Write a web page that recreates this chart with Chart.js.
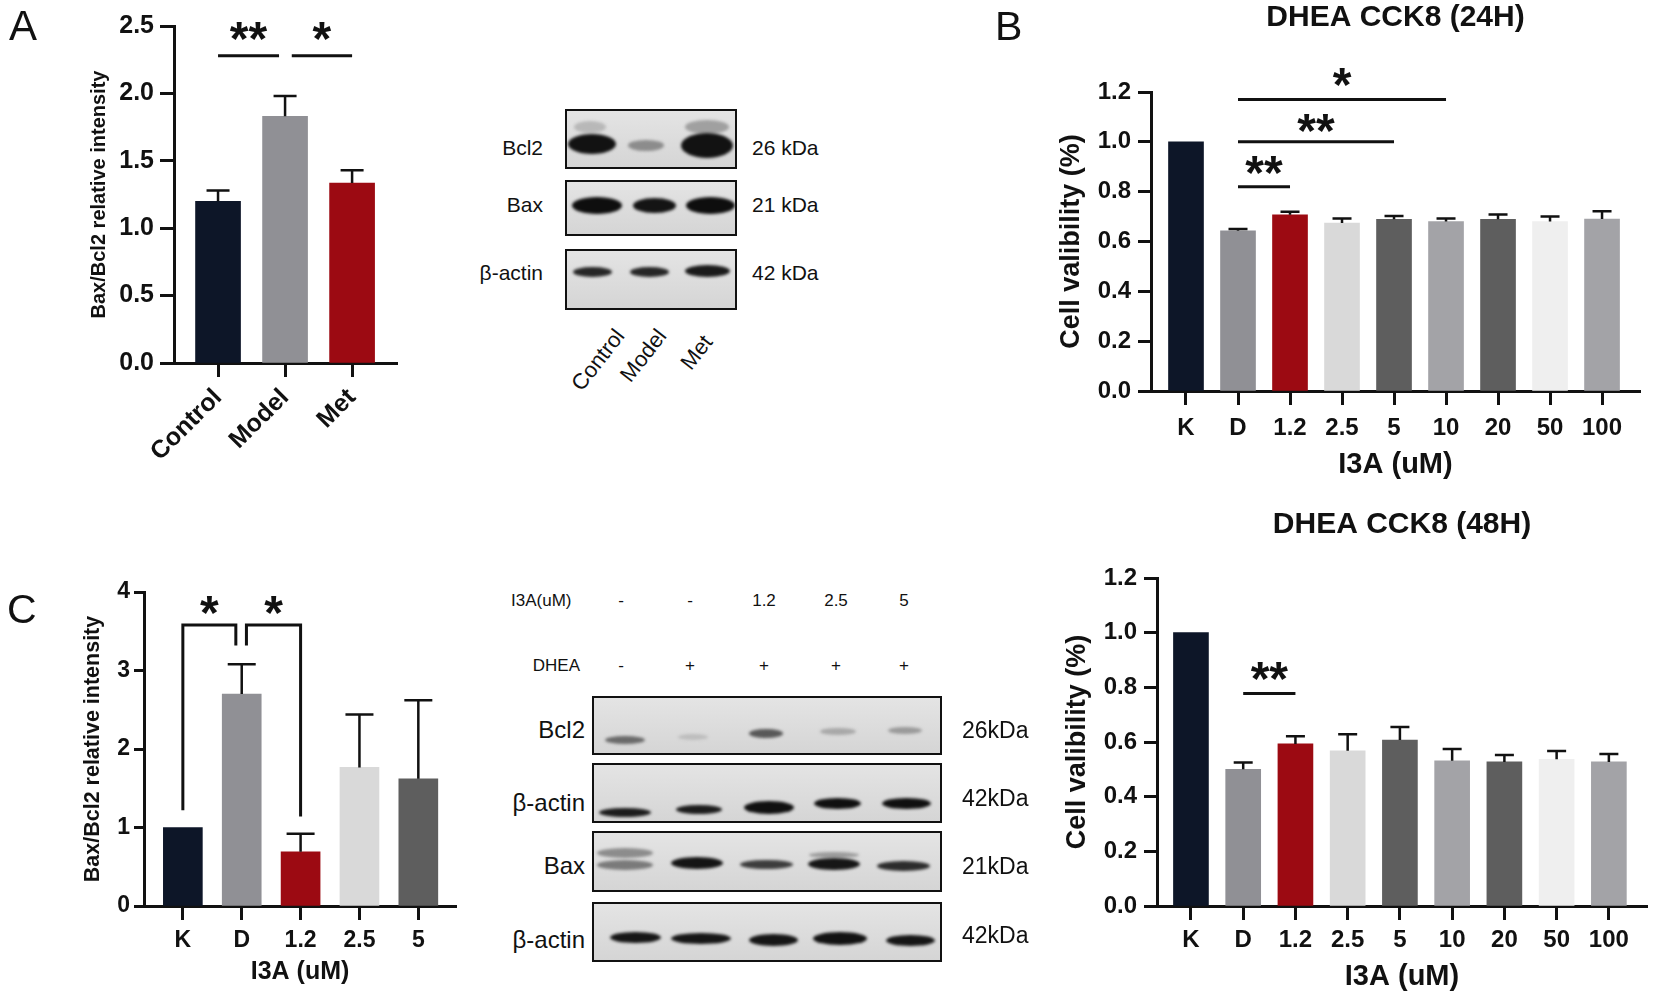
<!DOCTYPE html>
<html>
<head>
<meta charset="utf-8">
<script src="https://cdn.jsdelivr.net/npm/chart.js@4.4.1/dist/chart.umd.min.js"></script>
<style>
  body { margin: 0; background: #fff; width: 1654px; height: 998px; overflow: hidden; position: relative;
         font-family: "Liberation Sans", Arial, Helvetica, sans-serif; color: #111; }
  canvas { position: absolute; }
  .t { position: absolute; white-space: nowrap; line-height: 1; }
  .blot { position: absolute; box-sizing: border-box; border: 2px solid #111;
          background: linear-gradient(#e4e4e4, #d5d5d5); }
  .band { position: absolute; border-radius: 50%; filter: blur(1.8px); }
</style>
</head>
<body>
<canvas id="chartA" width="420" height="470" style="left:0px;top:0px"></canvas>
<canvas id="chartB" width="654" height="490" style="left:1000px;top:0px"></canvas>
<canvas id="chartC" width="480" height="458" style="left:0px;top:540px"></canvas>
<canvas id="chartD" width="654" height="503" style="left:1000px;top:495px"></canvas>

<script>
// ---- data ----
const groupsA = ['Control', 'Model', 'Met'];
const ratioA = [1.20, 1.83, 1.335];
const ratioAErr = [0.08, 0.15, 0.095];

const dosesCCK = ['K', 'D', '1.2', '2.5', '5', '10', '20', '50', '100'];
const via24 = [1.0, 0.643, 0.707, 0.674, 0.689, 0.680, 0.689, 0.680, 0.690];
const via24Err = [0, 0.007, 0.012, 0.018, 0.013, 0.012, 0.019, 0.020, 0.031];
const via48 = [1.0, 0.500, 0.593, 0.568, 0.607, 0.531, 0.527, 0.537, 0.527];
const via48Err = [0, 0.025, 0.028, 0.060, 0.048, 0.043, 0.025, 0.030, 0.029];

const dosesWB = ['K', 'D', '1.2', '2.5', '5'];
const ratioC = [1.0, 2.70, 0.69, 1.765, 1.62];
const ratioCErr = [0, 0.38, 0.23, 0.675, 1.0];

// significance marks (x in bar index units, y in axis units)
const sigA = [
  { x0: 0, x1: 0.91, y: 2.28, text: '**', ty: 2.46 },
  { x0: 1.1, x1: 2, y: 2.28, text: '*', ty: 2.46 }
];
const sigB = [
  { x0: 1, x1: 5, y: 1.17, text: '*', ty: 1.26 },
  { x0: 1, x1: 4, y: 1.0, text: '**', ty: 1.076 },
  { x0: 1, x1: 2, y: 0.82, text: '**', ty: 0.908 }
];
const sigD = [
  { x0: 1, x1: 2, y: 0.777, text: '**', ty: 0.86 }
];
const bracketsC = [
  { x0: 0, x1: 0.9, yl: 1.22, yt: 3.58, yr: 3.32, text: '*', ty: 3.83 },
  { x0: 1.08, x1: 2, yl: 3.32, yt: 3.58, yr: 1.14, text: '*', ty: 3.83 }
];

const colorsCCK = ['#0d1628', '#909095', '#9c0a12', '#d9d9d9', '#5e5e5e', '#a3a3a7', '#5e5e5e', '#efefef', '#a3a3a7'];
const colorsA = ['#0d1628', '#909095', '#9c0a12'];
const colorsC = ['#0d1628', '#909095', '#9c0a12', '#d9d9d9', '#5e5e5e'];

const FONT = '"Liberation Sans", Arial, Helvetica, sans-serif';
const INK = '#111';

// error bars drawn upward from each bar
const errorBars = {
  id: 'errorBars',
  afterDatasetsDraw(chart, args, opts) {
    const { ctx, scales: { x, y } } = chart;
    const pts = chart.data.datasets[0].data;
    ctx.save();
    ctx.strokeStyle = INK;
    ctx.lineWidth = 2.5;
    pts.forEach((p, i) => {
      const e = opts.errors[i];
      if (!e) return;
      const px = x.getPixelForValue(p.x);
      const y0 = y.getPixelForValue(p.y);
      const y1 = y.getPixelForValue(p.y + e);
      ctx.beginPath();
      ctx.moveTo(px, y0); ctx.lineTo(px, y1);
      ctx.moveTo(px - opts.cap / 2, y1); ctx.lineTo(px + opts.cap / 2, y1);
      ctx.stroke();
    });
    ctx.restore();
  }
};

function star(ctx, text, px, py, size) {
  ctx.font = 'bold ' + size + 'px ' + FONT;
  ctx.textAlign = 'center';
  ctx.textBaseline = 'alphabetic';
  ctx.fillText(text, px, py + 0.5 * size);
}

// significance lines and brackets
const sigMarks = {
  id: 'sigMarks',
  afterDatasetsDraw(chart, args, opts) {
    const { ctx, scales: { x, y } } = chart;
    ctx.save();
    ctx.strokeStyle = INK;
    ctx.fillStyle = INK;
    ctx.lineWidth = 3;
    (opts.lines || []).forEach(s => {
      const a = x.getPixelForValue(s.x0), b = x.getPixelForValue(s.x1), py = y.getPixelForValue(s.y);
      ctx.beginPath(); ctx.moveTo(a, py); ctx.lineTo(b, py); ctx.stroke();
      star(ctx, s.text, (a + b) / 2, y.getPixelForValue(s.ty), opts.size);
    });
    (opts.brackets || []).forEach(s => {
      const a = x.getPixelForValue(s.x0), b = x.getPixelForValue(s.x1);
      ctx.beginPath();
      ctx.moveTo(a, y.getPixelForValue(s.yl));
      ctx.lineTo(a, y.getPixelForValue(s.yt));
      ctx.lineTo(b, y.getPixelForValue(s.yt));
      ctx.lineTo(b, y.getPixelForValue(s.yr));
      ctx.stroke();
      star(ctx, s.text, (a + b) / 2, y.getPixelForValue(s.ty), opts.size);
    });
    ctx.restore();
  }
};

function makeChart(id, o) {
  const font = (size, weight) => ({ family: FONT, size: size, weight: weight || 'bold' });
  return new Chart(document.getElementById(id), {
    type: 'bar',
    data: {
      datasets: [{
        data: o.values.map((v, i) => ({ x: i, y: v })),
        backgroundColor: o.colors,
        barThickness: o.barW,
        borderWidth: 0
      }]
    },
    options: {
      responsive: false,
      animation: false,
      devicePixelRatio: 1,
      layout: { padding: o.pad },
      plugins: {
        legend: { display: false },
        tooltip: { enabled: false },
        title: o.title ? {
          display: true, text: o.title, fullSize: false, color: INK,
          font: font(30), padding: { top: 0, bottom: o.titleGap }
        } : { display: false },
        errorBars: { errors: o.errors, cap: o.cap },
        sigMarks: { lines: o.lines, brackets: o.brackets, size: 48 }
      },
      scales: {
        x: {
          type: 'linear',
          offset: false,
          min: o.xMin,
          max: o.xMax,
          afterBuildTicks: s => { s.ticks = o.labels.map((_, i) => ({ value: i })); },
          afterFit: s => { s.height = o.xH; },
          ticks: {
            autoSkip: false,
            callback: v => o.labels[v],
            color: INK,
            font: font(o.xFont),
            padding: o.xTickPad,
            minRotation: o.rot || 0,
            maxRotation: o.rot || 0
          },
          grid: { offset: false, drawOnChartArea: false, tickLength: 14, tickWidth: 3, tickColor: INK, color: INK },
          border: { width: 3, color: INK },
          title: o.xTitle ? {
            display: true, text: o.xTitle, color: INK, font: font(o.xTitleSize),
            padding: { top: 0, bottom: o.xTitlePad }
          } : { display: false }
        },
        y: {
          min: 0,
          max: o.yMax,
          afterFit: s => { s.width = o.yW; },
          ticks: {
            stepSize: o.yStep,
            callback: v => v.toFixed(o.dec),
            color: INK,
            font: font(o.yFont),
            padding: o.yTickPad
          },
          grid: { drawOnChartArea: false, tickLength: o.yTickLen, tickWidth: 3, tickColor: INK, color: INK },
          border: { width: 3, color: INK },
          title: {
            display: true, text: o.yTitle, color: INK, font: font(o.yTitleSize),
            padding: { top: o.yTitlePad, bottom: 0 }
          }
        }
      }
    },
    plugins: [errorBars, sigMarks]
  });
}

makeChart('chartA', {
  labels: groupsA, values: ratioA, errors: ratioAErr, colors: colorsA,
  barW: 45, cap: 23, lines: sigA,
  pad: { top: 26, left: 0, right: 23, bottom: 0 },
  xMin: -0.657, xMax: 2.67, xH: 107, xFont: 25, xTickPad: 6, rot: 45,
  yMax: 2.5, yStep: 0.5, dec: 1, yW: 174, yFont: 25, yTickPad: 6, yTickLen: 14,
  yTitle: 'Bax/Bcl2 relative intensity', yTitleSize: 20, yTitlePad: 87
});

makeChart('chartB', {
  labels: dosesCCK, values: via24, errors: via24Err, colors: colorsCCK,
  barW: 35, cap: 19, lines: sigB,
  title: 'DHEA CCK8 (24H)', titleGap: 56,
  pad: { top: 0, left: 0, right: 14, bottom: 0 },
  xMin: -0.673, xMax: 8.73, xH: 99, xFont: 24, xTickPad: 8.5,
  xTitle: 'I3A (uM)', xTitleSize: 29, xTitlePad: 7.6,
  yMax: 1.2, yStep: 0.2, dec: 1, yW: 151, yFont: 24, yTickPad: 7, yTickLen: 13,
  yTitle: 'Cell valibility (%)', yTitleSize: 27, yTitlePad: 55.8
});

makeChart('chartC', {
  labels: dosesWB, values: ratioC, errors: ratioCErr, colors: colorsC,
  barW: 39, cap: 28, brackets: bracketsC,
  pad: { top: 52, left: 0, right: 24, bottom: 0 },
  xMin: -0.66, xMax: 4.64, xH: 92, xFont: 23, xTickPad: 7.2,
  xTitle: 'I3A (uM)', xTitleSize: 25, xTitlePad: 11,
  yMax: 4, yStep: 1, dec: 0, yW: 144, yFont: 23, yTickPad: 4, yTickLen: 10,
  yTitle: 'Bax/Bcl2 relative intensity', yTitleSize: 21.5, yTitlePad: 80
});

makeChart('chartD', {
  labels: dosesCCK, values: via48, errors: via48Err, colors: colorsCCK,
  barW: 35, cap: 19, lines: sigD,
  title: 'DHEA CCK8 (48H)', titleGap: 35,
  pad: { top: 12, left: 0, right: 7, bottom: 0 },
  xMin: -0.65, xMax: 8.73, xH: 92, xFont: 24, xTickPad: 5.6,
  xTitle: 'I3A (uM)', xTitleSize: 29, xTitlePad: 3.6,
  yMax: 1.2, yStep: 0.2, dec: 1, yW: 157, yFont: 24, yTickPad: 7, yTickLen: 13,
  yTitle: 'Cell valibility (%)', yTitleSize: 27, yTitlePad: 61.8
});

// ---- text and western blot panels (images, rebuilt with plain HTML) ----
function txt(s, x, y, size, align, extra) {
  const d = document.createElement('div');
  d.className = 't';
  d.textContent = s;
  d.style.left = x + 'px';
  d.style.top = y + 'px';
  d.style.fontSize = size + 'px';
  const tx = align === 'right' ? '-100%' : align === 'center' ? '-50%' : '0';
  d.style.transform = 'translate(' + tx + ',-50%)';
  if (extra) Object.assign(d.style, extra);
  document.body.appendChild(d);
  return d;
}
function box(x0, y0, x1, y1) {
  const d = document.createElement('div');
  d.className = 'blot';
  Object.assign(d.style, { left: x0 + 'px', top: y0 + 'px', width: (x1 - x0) + 'px', height: (y1 - y0) + 'px' });
  document.body.appendChild(d);
}
function band(b) {
  const d = document.createElement('div');
  d.className = 'band';
  Object.assign(d.style, {
    left: (b[0] - b[2] / 2) + 'px', top: (b[1] - b[3] / 2) + 'px',
    width: b[2] + 'px', height: b[3] + 'px', background: b[4]
  });
  document.body.appendChild(d);
}

txt('A', 9, 26, 42);
txt('B', 995, 26, 41);
txt('C', 7, 609, 41);

// blot A
box(565, 109, 737, 169);
box(565, 180, 737, 236);
box(565, 249, 737, 310);
const bandsA = [
  [590, 127, 32, 12, '#b8b8b8'], [707, 127, 44, 14, '#a0a0a0'],
  [592, 144, 48, 20, '#121212'], [646, 145, 36, 11, '#8c8c8c'], [707, 145, 52, 25, '#121212'],
  [597, 205, 50, 17, '#0e0e0e'], [654, 205, 43, 15, '#141414'], [710, 205, 49, 17, '#0e0e0e'],
  [592, 272, 39, 10, '#262626'], [649, 272, 39, 10, '#262626'], [707, 271, 45, 12, '#1a1a1a']
];
bandsA.forEach(band);
[['Bcl2', 147], ['Bax', 204], ['\u03b2-actin', 272]].forEach(r => txt(r[0], 543, r[1], 21, 'right'));
[['26 kDa', 147], ['21 kDa', 204], ['42 kDa', 272]].forEach(r => txt(r[0], 752, r[1], 21, 'left'));
[['Control', 620, 332], ['Model', 662, 332], ['Met', 708, 338]].forEach(r => {
  txt(r[0], r[1], r[2], 22, 'left', { transformOrigin: '100% 50%', transform: 'translate(-100%,-50%) rotate(-52deg)' });
});

// blot C
box(592, 696, 942, 755);
box(592, 763, 942, 823);
box(592, 831, 942, 892);
box(592, 902, 942, 962);
const bandsC = [
  [625, 740, 40, 8, '#6a6a6a'], [693, 737, 30, 6, '#bdbdbd'], [766, 733, 34, 9, '#585858'],
  [838, 731, 36, 7, '#a8a8a8'], [905, 730, 34, 7, '#9a9a9a'],
  [625, 812, 52, 9, '#1c1c1c'], [699, 809, 46, 9, '#1c1c1c'], [769, 807, 50, 13, '#101010'],
  [837, 803, 47, 11, '#101010'], [906, 803, 49, 11, '#101010'],
  [625, 853, 56, 10, '#8c8c8c'], [625, 865, 56, 10, '#7a7a7a'], [697, 863, 52, 12, '#141414'],
  [766, 864, 53, 9, '#3c3c3c'], [834, 855, 50, 6, '#9a9a9a'], [834, 864, 52, 12, '#161616'],
  [903, 866, 53, 10, '#2c2c2c'],
  [635, 937, 51, 11, '#161616'], [701, 938, 60, 11, '#161616'], [773, 940, 49, 12, '#161616'],
  [840, 938, 54, 13, '#121212'], [910, 940, 49, 11, '#161616']
];
bandsC.forEach(band);
txt('I3A(uM)', 511, 600, 17, 'left');
txt('DHEA', 580, 665, 17, 'right');
const lanesC = [621, 690, 764, 836, 904];
const i3aRow = ['-', '-', '1.2', '2.5', '5'];
const dheaRow = ['-', '+', '+', '+', '+'];
lanesC.forEach((x, i) => { txt(i3aRow[i], x, 600, 17, 'center'); txt(dheaRow[i], x, 665, 17, 'center'); });
[['Bcl2', 730], ['\u03b2-actin', 803], ['Bax', 866], ['\u03b2-actin', 940]].forEach(r => txt(r[0], 585, r[1], 24, 'right'));
[['26kDa', 730], ['42kDa', 798], ['21kDa', 866], ['42kDa', 935]].forEach(r => txt(r[0], 962, r[1], 23, 'left'));
</script>
</body>
</html>
